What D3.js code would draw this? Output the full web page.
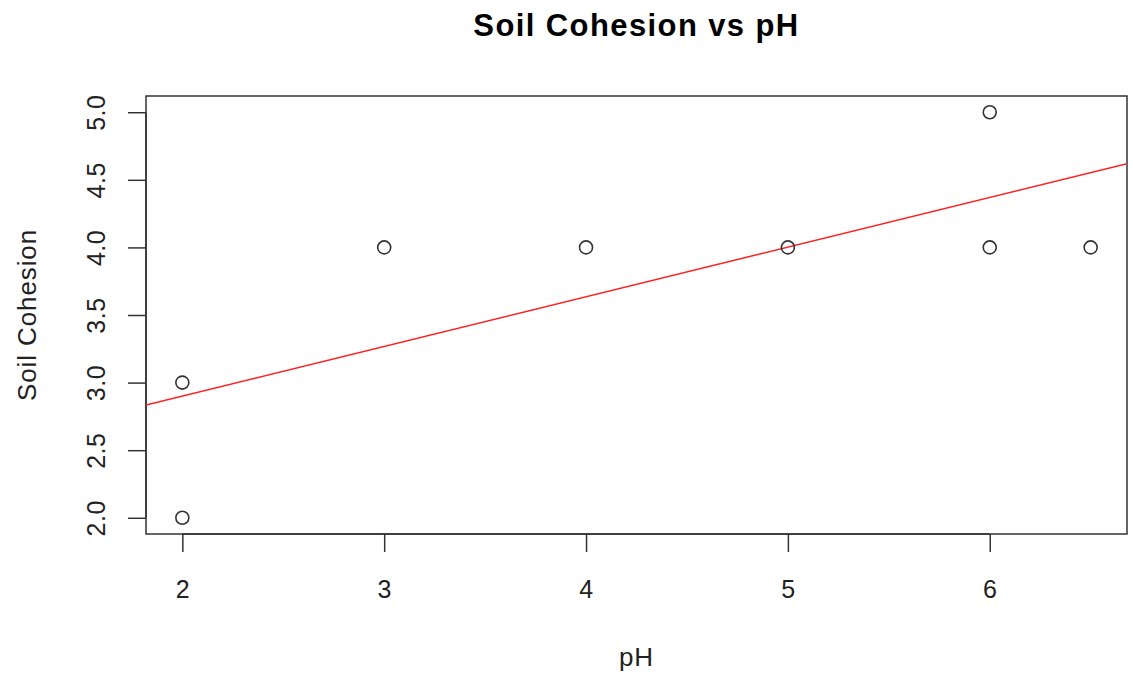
<!DOCTYPE html>
<html>
<head>
<meta charset="utf-8">
<script src="https://cdn.jsdelivr.net/npm/d3@7"></script>
<style>
  body { margin: 0; background: #fff; }
  svg { display: block; font-family: "Liberation Sans", Arial, sans-serif; }
</style>
</head>
<body>
<svg id="chart"></svg>
<script>
// Data
const phValues = [2, 2, 3, 4, 5, 6, 6, 6.5];
const cohesionValues = [3, 2, 4, 4, 4, 5, 4, 4];
const xTicks = [2, 3, 4, 5, 6];
const yTicks = [2.0, 2.5, 3.0, 3.5, 4.0, 4.5, 5.0];
const fitCoef = [2.165, 0.3675]; // intercept, slope of the red line

const width = 1133, height = 677;
const margin = { top: 96, right: 6, bottom: 143, left: 146 };
const plotW = width - margin.left - margin.right;
const plotH = height - margin.top - margin.bottom;

const svg = d3.select("#chart").attr("width", width).attr("height", height);
const g = svg.append("g").attr("transform", `translate(${margin.left},${margin.top})`);

// R style 4% padding on each side
const xPad = (d3.max(phValues) - d3.min(phValues)) * 0.04;
const yPad = (d3.max(cohesionValues) - d3.min(cohesionValues)) * 0.04;
const xScale = d3.scaleLinear()
  .domain([d3.min(phValues) - xPad, d3.max(phValues) + xPad])
  .range([0, plotW]);
const yScale = d3.scaleLinear()
  .domain([d3.min(cohesionValues) - yPad, d3.max(cohesionValues) + yPad])
  .range([plotH, 0]);

// Title
svg.append("text")
  .attr("x", margin.left + plotW / 2)
  .attr("y", 36)
  .attr("text-anchor", "middle")
  .style("font-size", "31px")
  .style("font-weight", "bold")
  .style("letter-spacing", "1.4px")
  .text("Soil Cohesion vs pH");

// x axis
const xAxis = g.append("g")
  .attr("transform", `translate(0,${plotH})`)
  .call(d3.axisBottom(xScale).tickValues(xTicks).tickSize(18).tickPadding(28).tickFormat(d3.format("d")));
xAxis.select(".domain").attr("d", `M${xScale(xTicks[0])},0H${xScale(xTicks[xTicks.length - 1])}`);

// y axis
const yAxis = g.append("g")
  .call(d3.axisLeft(yScale).tickValues(yTicks).tickSize(18).tickFormat(d3.format(".1f")));
yAxis.select(".domain").attr("d", `M0,${yScale(yTicks[0])}V${yScale(yTicks[yTicks.length - 1])}`);

[xAxis, yAxis].forEach(a => {
  a.selectAll("line, path").attr("stroke", "#333").attr("stroke-width", 1.5);
  a.selectAll("text").attr("fill", "#222").style("font-size", "25px")
    .style("letter-spacing", "0.5px")
    .style("font-family", "Liberation Sans, Arial, sans-serif");
});
yAxis.selectAll(".tick text")
  .attr("x", 0).attr("dy", null)
  .attr("transform", "translate(-50,0) rotate(-90)")
  .attr("text-anchor", "middle")
  .attr("dominant-baseline", "central");

// Plot box
g.append("rect")
  .attr("width", plotW).attr("height", plotH)
  .attr("fill", "none").attr("stroke", "#333").attr("stroke-width", 1.5);

// Regression line, clipped to the box
svg.append("clipPath").attr("id", "clip")
  .append("rect").attr("width", plotW).attr("height", plotH);
const xd = xScale.domain();
g.append("line")
  .attr("clip-path", "url(#clip)")
  .attr("x1", xScale(xd[0])).attr("y1", yScale(fitCoef[0] + fitCoef[1] * xd[0]))
  .attr("x2", xScale(xd[1])).attr("y2", yScale(fitCoef[0] + fitCoef[1] * xd[1]))
  .attr("stroke", "#ff2020").attr("stroke-width", 1.5);

// Points
g.selectAll("circle.pt")
  .data(phValues.map((x, i) => ({ x, y: cohesionValues[i] })))
  .enter().append("circle")
  .attr("class", "pt")
  .attr("cx", d => xScale(d.x))
  .attr("cy", d => yScale(d.y))
  .attr("r", 6.5)
  .attr("fill", "none")
  .attr("stroke", "#333")
  .attr("stroke-width", 1.6);

// Axis titles
svg.append("text")
  .attr("x", margin.left + plotW / 2)
  .attr("y", 666)
  .attr("text-anchor", "middle")
  .style("font-size", "26px").style("letter-spacing", "0.8px").attr("fill", "#222")
  .text("pH");
svg.append("text")
  .attr("transform", `translate(36,${margin.top + plotH / 2}) rotate(-90)`)
  .attr("text-anchor", "middle")
  .style("font-size", "26px").style("letter-spacing", "0.9px").attr("fill", "#222")
  .text("Soil Cohesion");
</script>
</body>
</html>
